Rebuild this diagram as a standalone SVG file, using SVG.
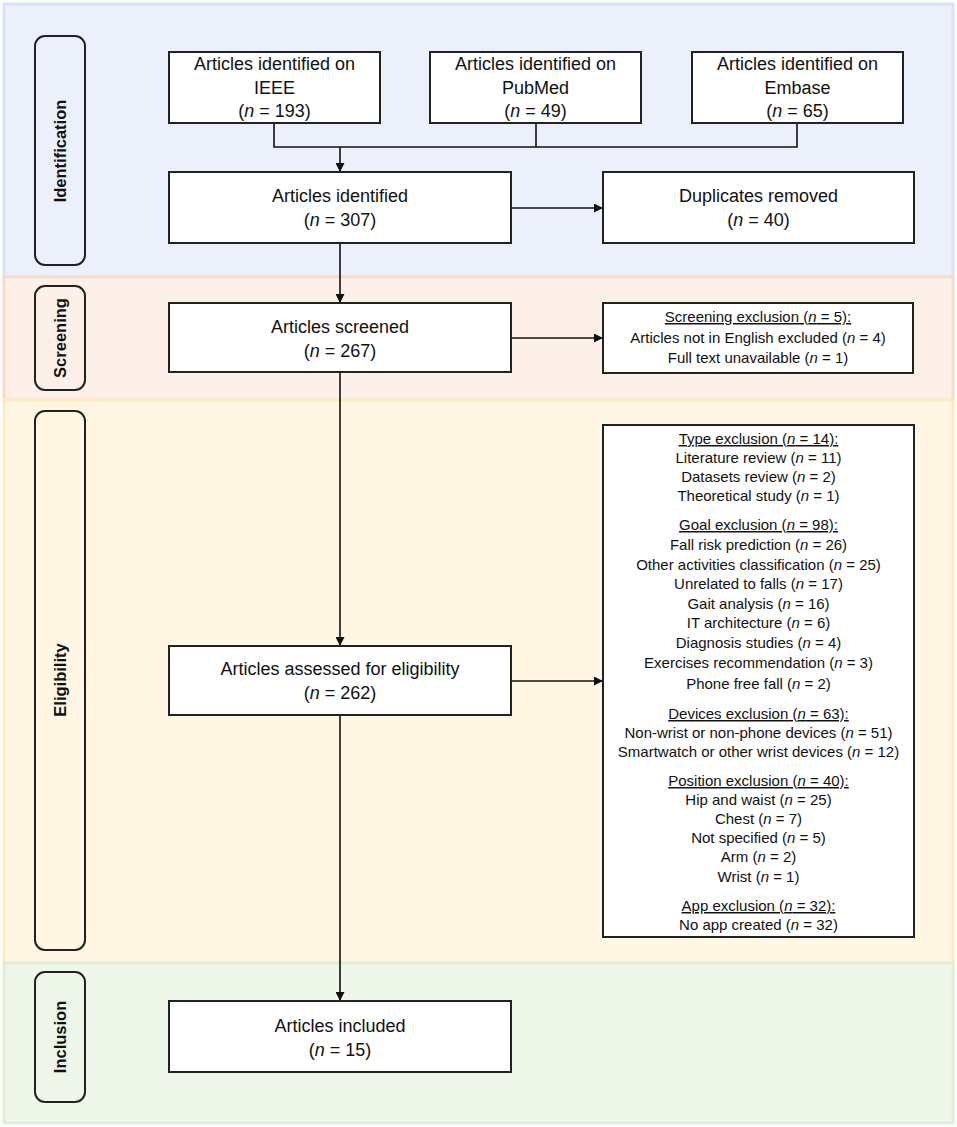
<svg xmlns="http://www.w3.org/2000/svg" width="957" height="1127" viewBox="0 0 957 1127">
<defs>
<marker id="ah" markerUnits="userSpaceOnUse" markerWidth="9" markerHeight="9" refX="9" refY="4.5" orient="auto"><path d="M0,0 L9,4.5 L0,9 z" fill="#111"/></marker>
<style>
.box{fill:#fff;stroke:#222;stroke-width:2}
.lab{fill:none;stroke:#222;stroke-width:2}
.t{font-family:"Liberation Sans",Arial,sans-serif;font-size:18px;fill:#111;text-anchor:middle}
.s{font-family:"Liberation Sans",Arial,sans-serif;font-size:15px;fill:#111;text-anchor:middle}
.v{font-family:"Liberation Sans",Arial,sans-serif;font-size:16.5px;font-weight:bold;fill:#111;text-anchor:middle}
.u{text-decoration:underline}
.i{font-style:italic}
.c{fill:none;stroke:#111;stroke-width:1.6}
</style>
</defs>
<rect width="957" height="1127" fill="#fff"/>
<g id="bands">
<rect x="4" y="4" width="949" height="273" fill="#ebf0fa" stroke="#d9e2f3" stroke-width="3"/>
<rect x="4" y="277" width="949" height="123" fill="#fdf0e8" stroke="#f8dccb" stroke-width="3"/>
<rect x="4" y="400" width="949" height="563" fill="#fff7e3" stroke="#fdebc4" stroke-width="3"/>
<rect x="4" y="963" width="949" height="160" fill="#eff6ea" stroke="#e0eed6" stroke-width="3"/>
</g>
<g id="label-identification"><rect class="lab" x="35" y="36" width="50" height="229" rx="10"/><text class="v" transform="translate(66,151) rotate(-90)">Identification</text></g>
<g id="label-screening"><rect class="lab" x="35" y="286" width="50" height="104" rx="10"/><text class="v" transform="translate(66,338) rotate(-90)">Screening</text></g>
<g id="label-eligibility"><rect class="lab" x="35" y="411" width="50" height="539" rx="10"/><text class="v" transform="translate(66,680) rotate(-90)">Eligibility</text></g>
<g id="label-inclusion"><rect class="lab" x="35" y="972" width="50" height="130" rx="10"/><text class="v" transform="translate(66,1037) rotate(-90)">Inclusion</text></g>
<g id="connectors">
<path class="c" d="M274,123 V147 H797 V123"/>
<path class="c" d="M536,123 V147"/>
<path class="c" d="M340,147 V172" marker-end="url(#ah)"/>
<path class="c" d="M511,208 H603" marker-end="url(#ah)"/>
<path class="c" d="M340,243 V303" marker-end="url(#ah)"/>
<path class="c" d="M511,338 H603" marker-end="url(#ah)"/>
<path class="c" d="M340,372 V646" marker-end="url(#ah)"/>
<path class="c" d="M511,681 H603" marker-end="url(#ah)"/>
<path class="c" d="M340,715 V1001" marker-end="url(#ah)"/>
</g>
<g id="ieee"><rect class="box" x="169" y="52" width="211" height="71"/><text class="t" x="274.5" y="70">Articles identified on</text><text class="t" x="274.5" y="94">IEEE</text><text class="t" x="274.5" y="117">(<tspan class="i">n</tspan> = 193)</text></g>
<g id="pubmed"><rect class="box" x="430" y="52" width="211" height="71"/><text class="t" x="535.5" y="70">Articles identified on</text><text class="t" x="535.5" y="94">PubMed</text><text class="t" x="535.5" y="117">(<tspan class="i">n</tspan> = 49)</text></g>
<g id="embase"><rect class="box" x="692" y="52" width="211" height="71"/><text class="t" x="797.5" y="70">Articles identified on</text><text class="t" x="797.5" y="94">Embase</text><text class="t" x="797.5" y="117">(<tspan class="i">n</tspan> = 65)</text></g>
<g id="identified"><rect class="box" x="169" y="172" width="342" height="71"/><text class="t" x="340" y="202">Articles identified</text><text class="t" x="340" y="226">(<tspan class="i">n</tspan> = 307)</text></g>
<g id="duplicates"><rect class="box" x="603" y="172" width="311" height="71"/><text class="t" x="758.5" y="202">Duplicates removed</text><text class="t" x="758.5" y="226">(<tspan class="i">n</tspan> = 40)</text></g>
<g id="screened"><rect class="box" x="169" y="303" width="342" height="69"/><text class="t" x="340" y="333">Articles screened</text><text class="t" x="340" y="357">(<tspan class="i">n</tspan> = 267)</text></g>
<g id="screening-exclusion"><rect class="box" x="603" y="303" width="310" height="70"/><text class="s" x="758" y="322"><tspan class="u">Screening exclusion (<tspan class="i">n</tspan> = 5):</tspan></text><text class="s" x="758" y="343">Articles not in English excluded (<tspan class="i">n</tspan> = 4)</text><text class="s" x="758" y="363">Full text unavailable (<tspan class="i">n</tspan> = 1)</text></g>
<g id="assessed"><rect class="box" x="169" y="646" width="342" height="69"/><text class="t" x="340" y="675">Articles assessed for eligibility</text><text class="t" x="340" y="699">(<tspan class="i">n</tspan> = 262)</text></g>
<g id="eligibility-exclusion"><rect class="box" x="603" y="425" width="311" height="512"/>
<text class="s" x="758.5" y="444"><tspan class="u">Type exclusion (<tspan class="i">n</tspan> = 14):</tspan></text>
<text class="s" x="758.5" y="463">Literature review (<tspan class="i">n</tspan> = 11)</text>
<text class="s" x="758.5" y="482">Datasets review (<tspan class="i">n</tspan> = 2)</text>
<text class="s" x="758.5" y="501">Theoretical study (<tspan class="i">n</tspan> = 1)</text>
<text class="s" x="758.5" y="530"><tspan class="u">Goal exclusion (<tspan class="i">n</tspan> = 98):</tspan></text>
<text class="s" x="758.5" y="550">Fall risk prediction (<tspan class="i">n</tspan> = 26)</text>
<text class="s" x="758.5" y="570">Other activities classification (<tspan class="i">n</tspan> = 25)</text>
<text class="s" x="758.5" y="589">Unrelated to falls (<tspan class="i">n</tspan> = 17)</text>
<text class="s" x="758.5" y="609">Gait analysis (<tspan class="i">n</tspan> = 16)</text>
<text class="s" x="758.5" y="628">IT architecture (<tspan class="i">n</tspan> = 6)</text>
<text class="s" x="758.5" y="648">Diagnosis studies (<tspan class="i">n</tspan> = 4)</text>
<text class="s" x="758.5" y="668">Exercises recommendation (<tspan class="i">n</tspan> = 3)</text>
<text class="s" x="758.5" y="689">Phone free fall (<tspan class="i">n</tspan> = 2)</text>
<text class="s" x="758.5" y="719"><tspan class="u">Devices exclusion (<tspan class="i">n</tspan> = 63):</tspan></text>
<text class="s" x="758.5" y="738">Non-wrist or non-phone devices (<tspan class="i">n</tspan> = 51)</text>
<text class="s" x="758.5" y="757">Smartwatch or other wrist devices (<tspan class="i">n</tspan> = 12)</text>
<text class="s" x="758.5" y="786"><tspan class="u">Position exclusion (<tspan class="i">n</tspan> = 40):</tspan></text>
<text class="s" x="758.5" y="805">Hip and waist (<tspan class="i">n</tspan> = 25)</text>
<text class="s" x="758.5" y="824">Chest (<tspan class="i">n</tspan> = 7)</text>
<text class="s" x="758.5" y="843">Not specified (<tspan class="i">n</tspan> = 5)</text>
<text class="s" x="758.5" y="862">Arm (<tspan class="i">n</tspan> = 2)</text>
<text class="s" x="758.5" y="882">Wrist (<tspan class="i">n</tspan> = 1)</text>
<text class="s" x="758.5" y="911"><tspan class="u">App exclusion (<tspan class="i">n</tspan> = 32):</tspan></text>
<text class="s" x="758.5" y="930">No app created (<tspan class="i">n</tspan> = 32)</text>
</g>
<g id="included"><rect class="box" x="169" y="1001" width="342" height="71"/><text class="t" x="340" y="1032">Articles included</text><text class="t" x="340" y="1056">(<tspan class="i">n</tspan> = 15)</text></g>
</svg>
